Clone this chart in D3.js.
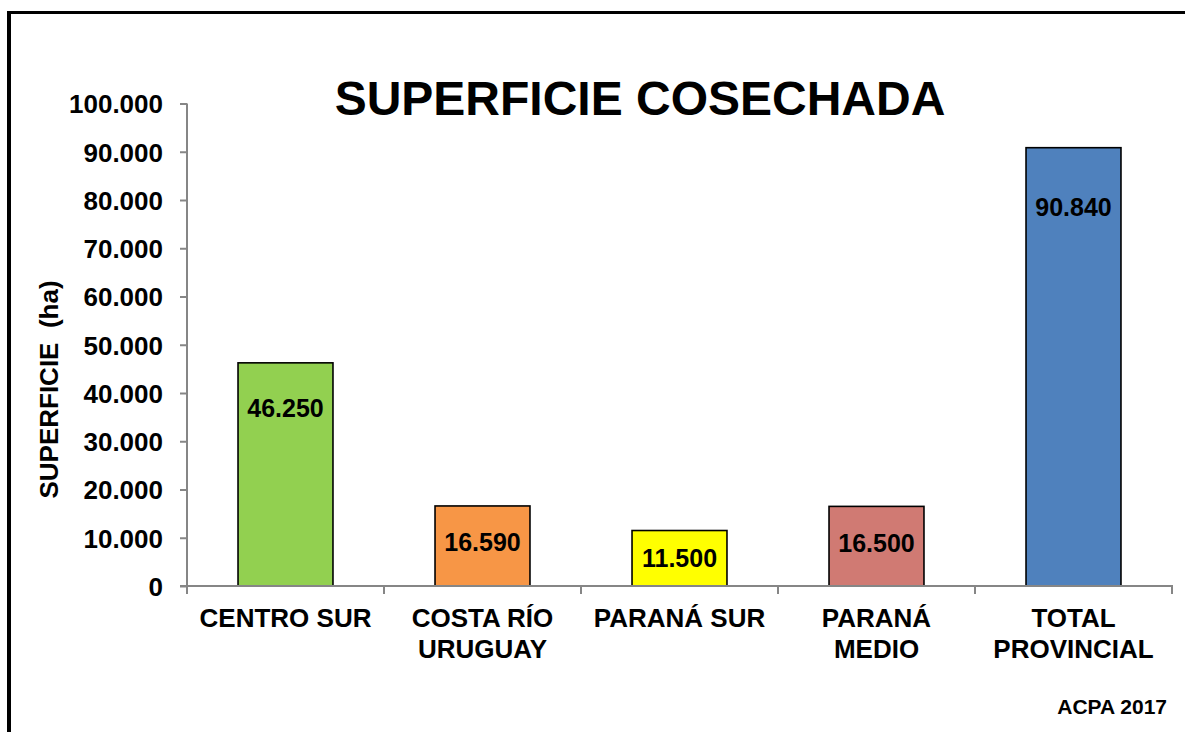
<!DOCTYPE html>
<html><head><meta charset="utf-8">
<script src="https://cdn.jsdelivr.net/npm/d3@7"></script>
<style>
html,body{margin:0;padding:0;background:#fff;}
text{font-family:Arial,"Liberation Sans",sans-serif;font-weight:bold;fill:#000;}
</style></head>
<body><svg id="c" width="1185" height="732"></svg>
<script>
const categories = [["CENTRO SUR"],["COSTA RÍO","URUGUAY"],["PARANÁ SUR"],["PARANÁ","MEDIO"],["TOTAL","PROVINCIAL"]];
const values = [46250, 16590, 11500, 16500, 90840];
const valueLabels = ["46.250","16.590","11.500","16.500","90.840"];
const colors = ["#92D050","#F79646","#FFFF00","#D07A73","#4F81BD"];
const yTicks = [0,10000,20000,30000,40000,50000,60000,70000,80000,90000,100000];
const yTickLabels = ["0","10.000","20.000","30.000","40.000","50.000","60.000","70.000","80.000","90.000","100.000"];
const title = "SUPERFICIE COSECHADA";
const yTitle = "SUPERFICIE\u00A0\u00A0(ha)";
const source = "ACPA 2017";

const svg = d3.select("#c");
// frame lines
svg.append("rect").attr("x",7).attr("y",11).attr("width",4).attr("height",721).attr("fill","#000");
svg.append("rect").attr("x",7).attr("y",11).attr("width",1178).attr("height",3).attr("fill","#000");

const x0 = 187, x1 = 1172, yTop = 103.5, yBot = 586;
const idx = values.map((d,i)=>i);
const x = d3.scaleBand().domain(idx).range([x0,x1]).paddingInner(0.518).paddingOuter(0.259);
const y = d3.scaleLinear().domain([0,100000]).range([yBot,yTop]);
const axisColor = "#868686";

// bars
svg.selectAll("rect.bar").data(values).enter().append("rect")
  .attr("class","bar")
  .attr("x",(d,i)=>x(i)).attr("width",x.bandwidth())
  .attr("y",d=>y(d)).attr("height",d=>yBot-y(d))
  .attr("fill",(d,i)=>colors[i]).attr("stroke","#000").attr("stroke-width",1.6);

// y axis
const yAxis = d3.axisLeft(y).tickValues(yTicks).tickSize(7).tickPadding(17)
  .tickFormat((d,i)=>yTickLabels[i]);
const gy = svg.append("g").attr("transform",`translate(${x0},0)`).call(yAxis);
gy.select(".domain").attr("stroke",axisColor).attr("stroke-width",2).attr("d",`M0,${yTop}V${yBot}`);
gy.selectAll(".tick line").attr("stroke",axisColor).attr("stroke-width",2);
gy.selectAll(".tick text").style("font-size","26px").style("font-family","Arial, 'Liberation Sans', sans-serif")
  .style("font-weight","bold").attr("fill","#000").attr("dy","0.36em");

// x axis line and boundary ticks
const step = x.step();
const bounds = d3.range(categories.length+1).map(i=>x0 + i*step);
svg.append("line").attr("x1",x0-7).attr("x2",x1+1).attr("y1",yBot).attr("y2",yBot)
  .attr("stroke",axisColor).attr("stroke-width",2);
svg.selectAll("line.xt").data(bounds).enter().append("line").attr("class","xt")
  .attr("x1",d=>d).attr("x2",d=>d).attr("y1",yBot).attr("y2",yBot+8)
  .attr("stroke",axisColor).attr("stroke-width",2);

// category labels
const cl = svg.selectAll("text.cat").data(categories).enter().append("text")
  .attr("class","cat").attr("text-anchor","middle").style("font-size","26px");
cl.each(function(lines,i){
  const t = d3.select(this);
  lines.forEach((ln,j)=>{
    t.append("tspan").attr("x",x(i)+x.bandwidth()/2).attr("y",627+j*31).text(ln);
  });
});

// value labels (inside, near the top of each bar)
svg.selectAll("text.val").data(values).enter().append("text")
  .attr("class","val").attr("text-anchor","middle").style("font-size","25px")
  .attr("x",(d,i)=>x(i)+x.bandwidth()/2)
  .attr("y",d=>{ const h = yBot - y(d); return Math.min(y(d) + 40 + h*0.065, yBot - 19); })
  .text((d,i)=>valueLabels[i]);

// title
svg.append("text").attr("x",640).attr("y",115).attr("text-anchor","middle")
  .style("font-size","48px").text(title);

// y title
svg.append("text").attr("transform","translate(58,389.5) rotate(-90)").attr("text-anchor","middle")
  .style("font-size","26px").text(yTitle);

// source
svg.append("text").attr("x",1167).attr("y",714).attr("text-anchor","end")
  .style("font-size","21px").text(source);
</script></body></html>
